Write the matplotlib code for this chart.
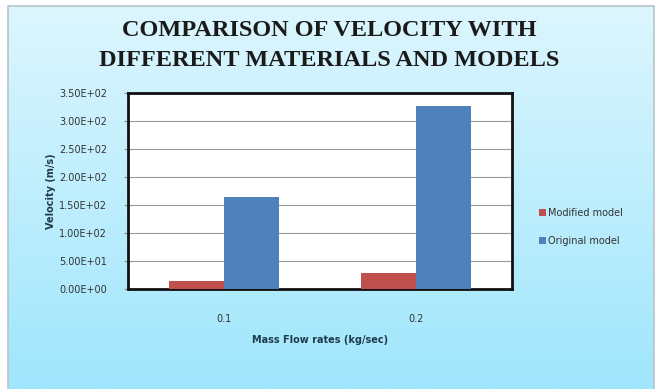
import matplotlib
matplotlib.use("Agg")
import matplotlib.pyplot as plt
import numpy as np
from matplotlib.patches import Rectangle

categories = ["0.1", "0.2"]
modified = [1.45e1, 2.9e1]
original = [1.64e2, 3.26e2]
yticks = [0, 50, 100, 150, 200, 250, 300, 350]
ytick_labels = ["0.00E+00", "5.00E+01", "1.00E+02", "1.50E+02", "2.00E+02",
                "2.50E+02", "3.00E+02", "3.50E+02"]

W, H = 659, 389
fig = plt.figure(figsize=(W / 100, H / 100), dpi=100)
fig.patch.set_facecolor("white")

# background gradient chart area
bg = fig.add_axes([0, 0, 1, 1], zorder=0)
bg.set_xlim(0, W)
bg.set_ylim(H, 0)
bg.axis("off")
top_c = np.array([0xdc, 0xf6, 0xfe]) / 255
bot_c = np.array([0xa0, 0xe6, 0xfc]) / 255
t = np.linspace(0, 1, 256)[:, None]
grad = top_c[None, :] * (1 - t) + bot_c[None, :] * t
grad = np.repeat(grad[:, None, :], 2, axis=1)
bg.imshow(grad, extent=[8, 654, H, 6], aspect="auto", interpolation="bilinear")
bg.add_patch(Rectangle((8, 6), 646, H - 5, fill=False, edgecolor="#b8c4c8", lw=1.2))

fig.text(0.5, 1 - 31 / H, "COMPARISON OF VELOCITY WITH", ha="center", va="center",
         fontsize=17.5, fontweight="bold", family="Liberation Serif", color="#1a1a1a")
fig.text(0.5, 1 - 60 / H, "DIFFERENT MATERIALS AND MODELS", ha="center", va="center",
         fontsize=17.5, fontweight="bold", family="Liberation Serif", color="#1a1a1a")

ax = fig.add_axes([128 / W, 1 - 289 / H, (512 - 128) / W, (289 - 93) / H], zorder=1)
ax.set_facecolor("white")
x = np.arange(len(categories))
w = 0.285
ax.bar(x - w / 2, modified, w, color="#c0504d", label="Modified model", zorder=3)
ax.bar(x + w / 2, original, w, color="#4f81bd", label="Original model", zorder=3)
ax.set_xlim(-0.5, 1.5)
ax.set_ylim(0, 350)
ax.set_yticks(yticks)
ax.set_yticklabels(ytick_labels, fontsize=7, color="#333333")
ax.set_xticks(x)
ax.set_xticklabels(categories, fontsize=7, color="#333333")
ax.tick_params(axis="x", length=0, pad=18)
ax.tick_params(axis="y", length=3, color="#888888", pad=12)
ax.yaxis.grid(True, color="#9a9a9a", lw=0.8, zorder=0)
for s in ax.spines.values():
    s.set_linewidth(2)
    s.set_color("#111111")
ax.set_ylabel("Velocity (m/s)", fontsize=7, fontweight="bold", color="#1f3a4a", labelpad=2)
ax.set_xlabel("Mass Flow rates (kg/sec)", fontsize=7, fontweight="bold", color="#1f3a4a", labelpad=8)

leg = fig.legend(loc="center left", bbox_to_anchor=(530 / W, 1 - 227 / H), frameon=False,
                 fontsize=7, handlelength=0.7, handleheight=0.7, handletextpad=0.3,
                 labelspacing=1.8, labelcolor="#333333")

fig.savefig("out.png", dpi=100)
